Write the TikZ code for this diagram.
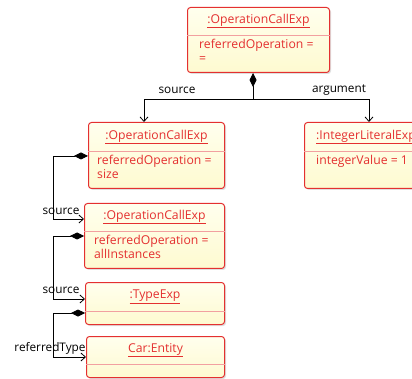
\documentclass[tikz,border=0pt]{standalone}
\usepackage{fontspec}
\setmainfont{Open Sans}
\usetikzlibrary{arrows.meta,shadows}
\definecolor{umlred}{RGB}{228,48,48}
\definecolor{umlline}{RGB}{242,160,160}
\definecolor{umltop}{RGB}{255,255,238}
\definecolor{umlbot}{RGB}{254,250,208}
\tikzset{
  objbox/.style={draw=umlred, line width=1pt, rounded corners=3pt,
    top color=umltop, bottom color=umlbot, inner sep=0pt,
    drop shadow={opacity=0.25, shadow xshift=1.5pt, shadow yshift=-1.5pt},
    anchor=north west},
  divline/.style={draw=umlline, line width=0.8pt},
  objtitle/.style={text=umlred, font=\fontsize{12.2}{14}\selectfont, inner sep=0pt},
  objattr/.style={text=umlred, font=\fontsize{12.2}{14}\selectfont, inner sep=0pt,
    align=left, anchor=north west},
  rolelabel/.style={text=black, font=\fontsize{11.8}{13}\selectfont, inner sep=0pt},
  comp/.style={draw=black, line width=0.8pt,
    {Diamond[length=14pt,width=7pt]}-{Straight Barb[length=4.5pt,width=8pt]}},
  link/.style={draw=black, line width=0.8pt, -{Straight Barb[length=4.5pt,width=8pt]}},
}
\begin{document}
\begin{tikzpicture}[x=1pt,y=-1pt]
\useasboundingbox (0,0) rectangle (412,379);

% root call  =
\node[objbox, minimum width=142pt, minimum height=65pt] (b1) at (187,7) {};
\draw[divline] (b1.west |- 0,35) -- (b1.east |- 0,35);
\node[objtitle] (b1t) at (b1.center |- 0,21) {\underline{:OperationCallExp}};
\node[objattr] (b1a) at (199,39) {referredOperation =\\=};

% call size
\node[objbox, minimum width=136pt, minimum height=66pt] (b2) at (88,122) {};
\draw[divline] (b2.west |- 0,151) -- (b2.east |- 0,151);
\node[objtitle] (b2t) at (b2.center |- 0,137) {\underline{:OperationCallExp}};
\node[objattr] (b2a) at (97,155) {referredOperation =\\size};

% integer argument
\node[objbox, minimum width=150pt, minimum height=66pt] (bI) at (304,122) {};
\draw[divline] (bI.west |- 0,151) -- (bI.east |- 0,151);
\node[objtitle, anchor=west] (bIt) at (316,137) {\underline{:IntegerLiteralExp}};
\node[objattr] (bIa) at (316,155) {integerValue = 1};

% call allInstances
\node[objbox, minimum width=140pt, minimum height=65pt] (b3) at (84,203) {};
\draw[divline] (b3.west |- 0,231) -- (b3.east |- 0,231);
\node[objtitle] (b3t) at (b3.center |- 0,217) {\underline{:OperationCallExp}};
\node[objattr] (b3a) at (94,235) {referredOperation =\\allInstances};

% type expression
\node[objbox, minimum width=139pt, minimum height=42pt] (b4) at (85,282) {};
\draw[divline] (b4.west |- 0,311) -- (b4.east |- 0,311);
\node[objtitle] (b4t) at (b4.center |- 0,297) {\underline{:TypeExp}};

% entity
\node[objbox, minimum width=138pt, minimum height=41pt] (b5) at (86,336) {};
\draw[divline] (b5.west |- 0,364) -- (b5.east |- 0,364);
\node[objtitle] (b5t) at (b5.center |- 0,350) {\underline{Car:Entity}};

% links
\coordinate (fork) at (253,99);
\draw[comp] (b1.south -| fork) -- (fork) -| (b2.north -| 144,0);
\draw[link] (fork) -| (bI.north -| 369,0);
\node[rolelabel] (l1) at (177,90) {source};
\node[rolelabel] (l2) at (339,90) {argument};

\draw[comp] (b2.west |- 0,156) -- (53,156) |- (b3.west |- 0,219);
\node[rolelabel] (l3) at (61,211) {source};

\draw[comp] (b3.west |- 0,236) -- (53,236) |- (b4.west |- 0,299);
\node[rolelabel] (l4) at (61,290) {source};

\draw[comp] (b4.west |- 0,313) -- (53,313) |- (b5.west |- 0,357);
\node[rolelabel] (l5) at (50,348) {referredType};
\end{tikzpicture}
\end{document}
